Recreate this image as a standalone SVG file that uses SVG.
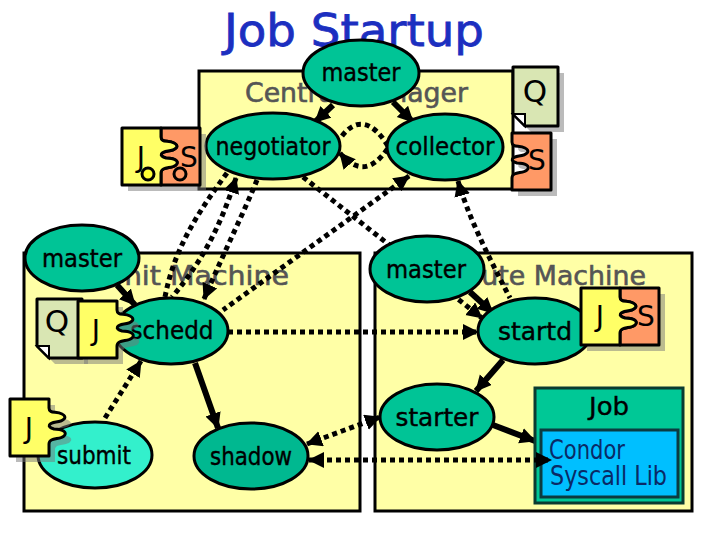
<svg xmlns="http://www.w3.org/2000/svg" width="720" height="540" viewBox="0 0 720 540">
<style>
text{font-family:"DejaVu Sans","Liberation Sans",sans-serif;fill:#000}
.title{font-size:45px;fill:#1c2fc0;stroke:#1c2fc0;stroke-width:.8}
.area{fill:#ffffa6;stroke:#000;stroke-width:3}
.hd{font-size:27px;fill:#555;stroke:#555;stroke-width:.6}
.n{fill:#00c496;stroke:#000;stroke-width:3}
.l{font-size:24px;text-anchor:middle;stroke:#000;stroke-width:.4}
.g{font-size:28px;text-anchor:middle}
.solid{fill:none;stroke:#000;stroke-width:6}
.dot{fill:none;stroke:#000;stroke-width:5;stroke-dasharray:5 4}
.sh{fill:#777;fill-opacity:.5;stroke:none}
.pj{fill:#ffff66;stroke:#000;stroke-width:3;stroke-linejoin:round}
.ps{fill:#ff9966;stroke:#000;stroke-width:3;stroke-linejoin:round}
.doc{fill:#d9e6b3;stroke:#000;stroke-width:3;stroke-linejoin:round}
.fold{fill:#fff;stroke:#000;stroke-width:2}
.lib{font-size:26px;fill:#0a2a66}
</style>
<defs>
<marker id="a" markerUnits="userSpaceOnUse" markerWidth="18" markerHeight="18" refX="15" refY="8" orient="auto-start-reverse"><path d="M0,0 L16,8 L0,16 Z" fill="#000"/></marker>
<path id="jp" d="M0,0 H39 V9 C39,15 46,12 52,15 C58,18 54,22 46,23 C39,24 36,28 44,30 C52,30 58,33 54,37 C50,41 39,38 39,45 V57 H0 Z"/>
<path id="sp" d="M39,0 H78 V57 H39 V45 C39,38 50,41 54,37 C58,33 52,30 44,30 C36,28 39,24 46,23 C54,22 58,18 52,15 C46,12 39,15 39,9 Z"/>
<path id="dc" d="M0,0 H45 V59 H12 L0,47 Z"/>
<path id="fd" d="M0,47 H12 V59 Z"/>
</defs>

<text class="title" x="224" y="46" textLength="260" lengthAdjust="spacingAndGlyphs">Job Startup</text>

<g id="central-manager-box"><rect class="area" x="199" y="71" width="314" height="118"/><text class="hd" x="245" y="102" textLength="223" lengthAdjust="spacingAndGlyphs">Central Manager</text></g>
<g id="submit-machine-box"><rect class="area" x="24" y="253" width="336" height="258"/><text class="hd" x="60" y="285" textLength="229" lengthAdjust="spacingAndGlyphs">Submit Machine</text></g>
<g id="execute-machine-box"><rect class="area" x="375" y="253" width="317" height="258"/><text class="hd" x="418" y="285" textLength="228" lengthAdjust="spacingAndGlyphs">Execute Machine</text></g>

<g id="connectors">
<path class="solid" marker-end="url(#a)" d="M333,105 L315,122"/>
<path class="solid" marker-end="url(#a)" d="M393,102 L413,122"/>
<path class="dot" d="M342,136 C356,118 372,120 388,146"/>
<path class="dot" marker-start="url(#a)" d="M340,153 C356,172 372,172 388,148"/>
<path class="dot" d="M227,173 C196,215 174,250 165,297"/>
<path class="dot" marker-start="url(#a)" d="M236,178 C224,215 208,255 172,297"/>
<path class="dot" marker-end="url(#a)" d="M257,180 C245,210 225,250 204,299"/>
<path class="dot" marker-start="url(#a)" d="M409,176 L223,310"/>
<path class="dot" marker-end="url(#a)" d="M303,177 L482,318"/>
<path class="dot" marker-start="url(#a)" d="M458,181 C468,215 485,250 510,298"/>
<path class="dot" marker-end="url(#a)" d="M228,332 L478,332"/>
<path class="dot" marker-end="url(#a)" d="M105,418 L141,361"/>
<path class="solid" marker-end="url(#a)" d="M117,285 L135,305"/>
<path class="solid" marker-end="url(#a)" d="M470,292 L493,313"/>
<path class="solid" marker-end="url(#a)" d="M195,363 L218,428"/>
<path class="solid" marker-end="url(#a)" d="M503,360 L476,391"/>
<path class="solid" marker-end="url(#a)" d="M493,425 L535,441"/>
<path class="dot" marker-start="url(#a)" marker-end="url(#a)" d="M307,444 L380,417"/>
</g>

<g id="master-central"><ellipse class="n" cx="361" cy="73" rx="58" ry="33"/><text class="l" x="361" y="81" textLength="79" lengthAdjust="spacingAndGlyphs">master</text></g>
<g id="negotiator"><ellipse class="n" cx="273" cy="146" rx="67" ry="33"/><text class="l" x="273" y="155" textLength="115" lengthAdjust="spacingAndGlyphs">negotiator</text></g>
<g id="collector"><ellipse class="n" cx="445" cy="147" rx="58" ry="33"/><text class="l" x="445" y="155" textLength="99" lengthAdjust="spacingAndGlyphs">collector</text></g>

<g id="job-ad-central">
<use href="#jp" class="sh" x="128" y="134"/><use href="#sp" class="sh" x="128" y="134"/>
<use href="#sp" class="ps" x="122" y="128"/><use href="#jp" class="pj" x="122" y="128"/>
<text class="g" x="141" y="167">J</text><text class="g" x="189" y="167">S</text>
<circle cx="148" cy="174" r="6" fill="#ffff33" stroke="#000" stroke-width="3"/><circle cx="180" cy="174" r="6" fill="#ff9966" stroke="#000" stroke-width="3"/>
</g>
<g id="q-central">
<use href="#dc" class="sh" x="519" y="73"/><use href="#dc" class="doc" x="513" y="67"/><use href="#fd" class="fold" x="513" y="67"/>
<text class="g" x="535" y="102" style="font-size:31px">Q</text>
</g>
<g id="s-central">
<use href="#sp" class="sh" x="479" y="139"/><use href="#sp" class="ps" x="473" y="133"/>
<text class="g" x="537" y="170">S</text>
</g>

<g id="master-submit"><ellipse class="n" cx="82" cy="258" rx="57" ry="33"/><text class="l" x="82" y="267" textLength="80" lengthAdjust="spacingAndGlyphs">master</text></g>
<g id="schedd"><ellipse class="n" cx="171" cy="331" rx="57" ry="33"/><text class="l" x="172" y="339" textLength="83" lengthAdjust="spacingAndGlyphs">schedd</text></g>
<g id="q-submit">
<use href="#dc" class="sh" x="43" y="305"/><use href="#dc" class="doc" x="37" y="299"/><use href="#fd" class="fold" x="37" y="299"/>
<text class="g" x="57" y="332" style="font-size:31px">Q</text>
</g>
<g id="job-schedd">
<use href="#jp" class="sh" x="84" y="307"/><use href="#jp" class="pj" x="78" y="301"/>
<text class="g" x="96" y="340">J</text>
</g>
<g id="submit"><ellipse cx="95" cy="455" rx="57" ry="33" fill="#33f0cc" stroke="#000" stroke-width="3"/><text class="l" x="94" y="464" textLength="74" lengthAdjust="spacingAndGlyphs">submit</text></g>
<g id="job-submit">
<use href="#jp" class="sh" x="16" y="405"/><use href="#jp" class="pj" x="10" y="399"/>
<text class="g" x="29" y="438">J</text>
</g>
<g id="shadow"><ellipse cx="251" cy="456" rx="57" ry="33" fill="#00b890" stroke="#000" stroke-width="3"/><text class="l" x="251" y="465" textLength="82" lengthAdjust="spacingAndGlyphs">shadow</text></g>

<g id="master-execute"><ellipse class="n" cx="427" cy="269" rx="57" ry="33"/><text class="l" x="426" y="278" textLength="80" lengthAdjust="spacingAndGlyphs">master</text></g>
<g id="startd"><ellipse class="n" cx="535" cy="331" rx="57" ry="33"/><text class="l" x="535" y="340" textLength="74" lengthAdjust="spacingAndGlyphs">startd</text></g>
<g id="job-startd">
<use href="#jp" class="sh" x="587" y="294"/><use href="#sp" class="sh" x="587" y="294"/>
<use href="#sp" class="ps" x="581" y="288"/><use href="#jp" class="pj" x="581" y="288"/>
<text class="g" x="600" y="326">J</text><text class="g" x="646" y="326">S</text>
</g>
<g id="starter"><ellipse class="n" cx="437" cy="417" rx="57" ry="33"/><text class="l" x="437" y="426" textLength="83" lengthAdjust="spacingAndGlyphs">starter</text></g>
<g id="job">
<rect x="535" y="388" width="148" height="115" fill="#00c896" stroke="#0b3b30" stroke-width="3"/>
<text class="l" x="609" y="415" textLength="40" lengthAdjust="spacingAndGlyphs">Job</text>
<rect x="541" y="430" width="137" height="67" fill="#00bfff" stroke="#0b3b40" stroke-width="3"/>
<text class="lib" x="549" y="459" textLength="76" lengthAdjust="spacingAndGlyphs">Condor</text>
<text class="lib" x="550" y="485" textLength="117" lengthAdjust="spacingAndGlyphs">Syscall Lib</text>
</g>
<path class="dot" marker-start="url(#a)" marker-end="url(#a)" d="M309,460 L551,460"/>
</svg>
